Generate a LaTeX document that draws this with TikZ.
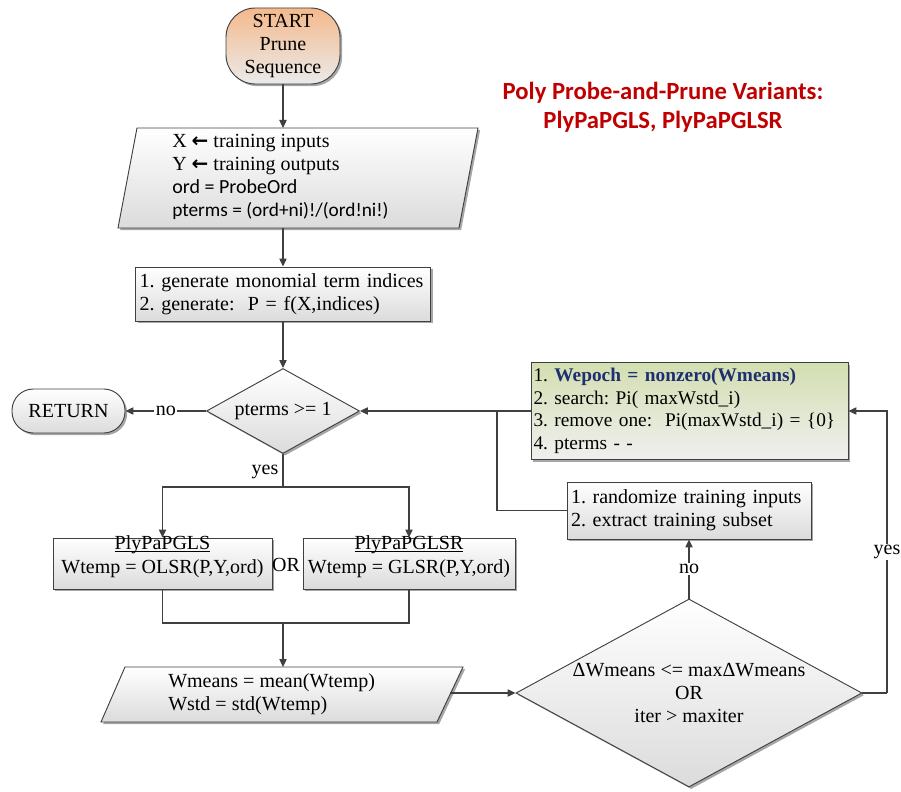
\documentclass[tikz,border=0pt]{standalone}
\usepackage{fontspec}
\setmainfont{Liberation Serif}
\newfontfamily\calib{Carlito}
\newfontfamily\symf{DejaVu Sans}
\usetikzlibrary{shapes.geometric,shadows,arrows.meta}

\definecolor{linec}{HTML}{404040}
\definecolor{titlered}{HTML}{C00000}
\definecolor{navy}{HTML}{1F3070}
\definecolor{startor}{HTML}{F4B98C}
\definecolor{greentop}{HTML}{D3DEB0}

\begin{document}
\frenchspacing
\begin{tikzpicture}[x=0.75pt,y=-0.75pt,
  txt/.style={font=\fontsize{15}{17.25}\selectfont},
  shd/.style={drop shadow={shadow xshift=1.6pt,shadow yshift=-1.6pt,opacity=0.35,fill=black}},
  boxfill/.style={top color=white,bottom color=black!14},
  procbox/.style={draw=linec,line width=0.7pt,boxfill,shd,txt,inner sep=2pt,align=left},
  termbox/.style={draw=linec,line width=0.7pt,boxfill,shd,txt,align=center},
  decision/.style={draw=linec,line width=0.7pt,diamond,boxfill,shd,txt,inner sep=0pt,align=center},
  iobox/.style={draw=linec,line width=0.7pt,boxfill,shd},
  conn/.style={draw=linec,line width=0.9pt},
  arr/.style={conn,-{Triangle[length=6pt,width=5.5pt]}},
  lbl/.style={fill=white,inner sep=1pt,txt}
]
\useasboundingbox (0,0) rectangle (901,792);

% start terminal
\node[termbox, rounded corners=22pt, top color=startor, bottom color=black!8,
      minimum width=85.5pt, minimum height=57pt] (start) at (283,46)
      {START\\Prune\\Sequence};

% title
\node[font=\calib\bfseries\fontsize{18.5}{21.75}\selectfont, text=titlered, align=center]
      (title) at (663,107.5) {Poly Probe-and-Prune Variants:\\PlyPaPGLS, PlyPaPGLSR};

% input parallelogram
\path[iobox] (137,128) -- (478,128) -- (459,228) -- (118,228) -- cycle;
\node[txt, anchor=west, align=left, inner sep=0pt] (inp) at (172,176.5)
      {X {\symf\bfseries ←} training inputs\\
       Y {\symf\bfseries ←} training outputs\\
       {\calib ord = ProbeOrd}\\
       {\calib\fontsize{14.5}{17.25}\selectfont pterms = (ord+ni)!/(ord!ni!)}};
\coordinate (inptop) at (283,128);
\coordinate (inpbot) at (283,228);

% term generation
\node[procbox, minimum width=221.25pt, minimum height=40.5pt, text width=215pt]
      (gen) at (283,294) {1. generate monomial term indices\\2. generate:\ \ P = f(X,indices)};

% pterms test
\node[decision, aspect=1.8, minimum width=114.75pt, minimum height=63.75pt] (chk) at (283,411) {pterms >= 1};

% return terminal
\node[termbox, rounded corners=16pt, minimum width=84.75pt, minimum height=33pt]
      (ret) at (68.5,411) {RETURN};

% regression variants
\node[procbox, align=center, minimum width=164.25pt, minimum height=38.25pt,
      font=\fontsize{15}{18.5}\selectfont]
      (gls) at (162.5,563.5) {\underline{\smash{PlyPaPGLS}}\\Wtemp = OLSR(P,Y,ord)};
\node[procbox, align=center, minimum width=159pt, minimum height=38.25pt,
      font=\fontsize{15}{18.5}\selectfont]
      (glsr) at (409,563.5) {\underline{\smash{PlyPaPGLSR}}\\Wtemp = GLSR(P,Y,ord)};
\node[txt] (or) at (286,565) {OR};

% statistics parallelogram
\path[iobox] (125,667) -- (463,667) -- (437,722) -- (101,722) -- cycle;
\node[txt, anchor=west, align=left, inner sep=0pt] (stat) at (168,694.5)
      {Wmeans = mean(Wtemp)\\Wstd = std(Wtemp)};
\coordinate (stattop) at (283,667);
\coordinate (statright) at (450,693);

% convergence test
\node[decision, aspect=1.84, minimum width=259.5pt, minimum height=141pt,
      font=\fontsize{15}{17.6}\selectfont] (conv) at (689,693)
      {ΔWmeans <= maxΔWmeans\\OR\\iter > maxiter};

% resampling
\node[procbox, minimum width=183pt, minimum height=42.75pt, text width=177pt]
      (rnd) at (689,510.5) {1. randomize training inputs\\2. extract training subset};

% pruning step
\node[procbox, top color=greentop, bottom color=black!6, inner xsep=1.5pt,
      font=\fontsize{14.5}{17}\selectfont,
      minimum width=237.75pt, minimum height=72.75pt, text width=234pt]
      (upd) at (689.5,411)
      {1. {\bfseries\color{navy}Wepoch = nonzero(Wmeans)}\\
       2. search: Pi( maxWstd\_i)\\
       3. remove one:\ \ Pi(maxWstd\_i) = \{0\}\\
       4. pterms - -};

% connectors
\draw[arr] (start.south) -- (inptop);
\draw[arr] (inpbot) -- (gen.north);
\draw[arr] (gen.south) -- (chk.north);
\draw[arr] (chk.west) -- node[lbl]{no} (ret.east);

\coordinate (split) at (283,487);
\draw[conn] (chk.south) -- node[txt, left, inner sep=3pt, pos=0.55]{yes} (split);
\draw[arr] (split) -| (gls.north);
\draw[arr] (split) -| (glsr.north);

\coordinate (merge) at (283,623);
\draw[conn] (gls.south) |- (merge);
\draw[conn] (glsr.south) |- (merge);
\draw[arr] (merge) -- (stattop);

\draw[arr] (statright) -- (conv.west);
\draw[arr] (conv.north) -- node[lbl]{no} (rnd.south);

\coordinate (jn) at (497,411);
\draw[conn] (rnd.west) -| (jn);
\draw[arr] (upd.west) -- (chk.east);

\coordinate (yesr) at (887,693);
\draw[conn] (conv.east) -- (yesr);
\draw[arr] (yesr) |- node[lbl, pos=0.25]{yes} (upd.east);
\end{tikzpicture}
\end{document}
